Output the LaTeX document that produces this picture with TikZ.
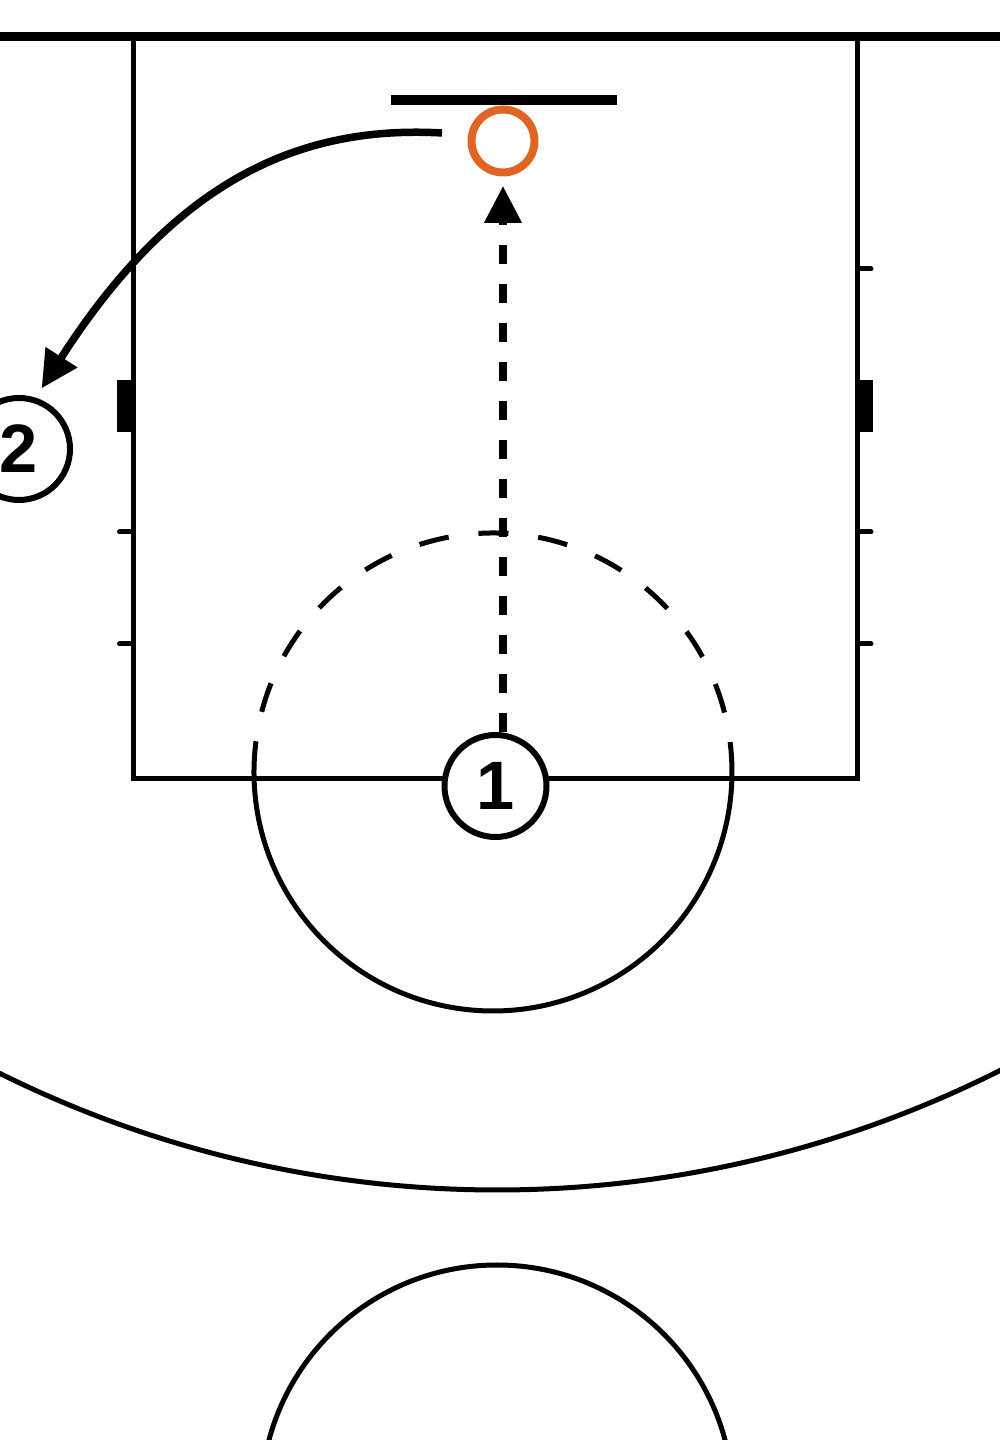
\documentclass[tikz,border=0pt]{standalone}
\usepackage{fontspec}
\newfontfamily\playerfont{Liberation Sans}
\usetikzlibrary{arrows.meta}
\definecolor{rimorange}{RGB}{224,100,36}
\def\courtarc[#1](#2)(#3:#4:#5){\draw[#1] (#2) ++(#3:#5) arc (#3:#4:#5);}
\tikzset{
	court/.style={line width=0.05cm},
	lanemark/.style={line width=0.05cm, line cap=round},
	player/.style={circle, draw, line width=0.06cm, fill=white, minimum size=1.02cm, inner sep=0pt, font=\playerfont\fontsize{19.5}{20}\selectfont\bfseries},
	move/.style={line width=0.075cm, -{Triangle[width=0.36cm,length=0.37cm]}},
}
\begin{document}
\begin{tikzpicture}
			%%%%% START %%%%%
			\useasboundingbox (0, 0) rectangle (10, 14.4);
			\clip (0, 0) rectangle (10, 14.4);
			\fill[white] (0, 0) rectangle (10, 14.4);
			
			\draw[line width=0.09cm] (0, 14.03) -- (10, 14.03);
			\draw[court] (1.335, 14.03) -- (1.335, 6.61) -- (8.575, 6.61) -- (8.575, 14.03);
			
			\draw[lanemark] (8.575, 11.71) -- (8.71, 11.71);
			\draw[lanemark] (8.575, 9.08) -- (8.71, 9.08);
			\draw[lanemark] (8.575, 7.96) -- (8.71, 7.96);
			\fill (8.575, 10.60) rectangle (8.73, 10.08);
			
			\draw[lanemark] (1.335, 9.08) -- (1.195, 9.08);
			\draw[lanemark] (1.335, 7.96) -- (1.195, 7.96);
			\fill (1.335, 10.60) rectangle (1.17, 10.08);
			
			\courtarc[court](4.93, 6.68)(172.8:367.2:2.39);
			\courtarc[court, dash pattern=on 0.3cm off 0.3cm, dash phase=0.3cm](4.93, 6.68)(7.2:172.8:2.39);
			\courtarc[court](4.97, 13.68)(238:302:11.18);
			\draw[court] (4.97, -0.61) circle (2.36);
			
			\draw[line width=0.10cm] (3.91, 13.40) -- (6.17, 13.40);
			\node[circle, draw=rimorange, line width=0.08cm, minimum size=0.63cm, inner sep=0pt] (hoop) at (5.03, 12.99) {};
			
			\node[player] (p1) at (4.955, 6.54) {1};
			\node[player] (p2) at (0.19, 9.91) {2};
			
			\draw[move, dash pattern=on 0.19cm off 0.2cm, shorten >=0.095cm] (hoop.south |- p1.north) -- (hoop.south);
			\coordinate (cutstart) at (4.42, 13.07);
			\draw[move, shorten >=0.11cm] (cutstart) .. controls (3.00, 13.15) and (1.75, 12.60) .. (p2.72);
			%%%%% END %%%%%
		\end{tikzpicture}
\end{document}
